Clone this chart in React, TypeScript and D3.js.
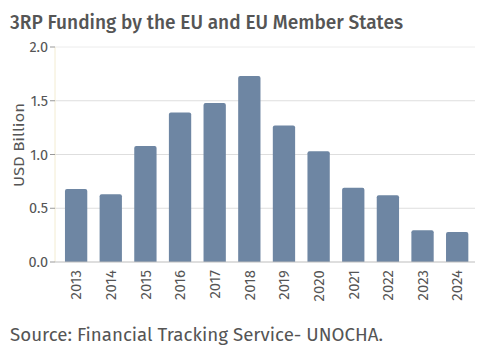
import React from "react";
import * as d3 from "d3";

const years = ["2013","2014","2015","2016","2017","2018","2019","2020","2021","2022","2023","2024"];
const funding = [0.68, 0.63, 1.08, 1.39, 1.48, 1.73, 1.27, 1.03, 0.69, 0.62, 0.295, 0.28];
const yTicks = [0, 0.5, 1.0, 1.5, 2.0];

const FONT = "'Fira Sans', 'Noto Sans', 'Open Sans', sans-serif";

export default function App() {
  const W = 480, H = 355;
  const left = 55, right = 475, top = 47, bottom = 262;
  const x = d3.scaleBand<string>().domain(years).range([58.8, 474.5]).paddingInner(0.356).paddingOuter(0.178);
  const y = d3.scaleLinear().domain([0, 2]).range([bottom, top]);
  const barColor = "#6e86a3";
  const textColor = "#555555";
  const bw = x.bandwidth();
  return (
    <svg width={W} height={H} style={{ position: "absolute", left: 0, top: 0, background: "#fff" }}>
      <text x={10} y={29} fontFamily={FONT} fontSize={20} fontWeight={500} fill={textColor} textLength={393} lengthAdjust="spacingAndGlyphs">
        3RP Funding by the EU and EU Member States
      </text>
      {yTicks.filter(t => t > 0).map(t => (
        <line key={"g" + t} x1={left} x2={right} y1={y(t)} y2={y(t)} stroke={t === 2 ? "#ececec" : "#dedede"} strokeWidth={1} />
      ))}
      <line x1={left} x2={left} y1={top} y2={bottom} stroke="#f3ecd2" strokeWidth={1} />
      {years.map((yr, i) => {
        const x0 = x(yr)!;
        const y0 = y(funding[i]);
        const r = 2;
        const d = `M${x0},${bottom} L${x0},${y0 + r} Q${x0},${y0} ${x0 + r},${y0} L${x0 + bw - r},${y0} Q${x0 + bw},${y0} ${x0 + bw},${y0 + r} L${x0 + bw},${bottom} Z`;
        return <path key={yr} d={d} fill={barColor} />;
      })}
      <line x1={left} x2={right} y1={bottom} y2={bottom} stroke="#bdbdbd" strokeWidth={1} />
      {yTicks.map(t => (
        <g key={"t" + t}>
          <line x1={left - 5} x2={left} y1={y(t)} y2={y(t)} stroke="#999" strokeWidth={1} />
          <text x={left - 7} y={y(t)} dy="0.35em" textAnchor="end" fontFamily={FONT} fontSize={14.5} fill={textColor}>
            {t.toFixed(1)}
          </text>
        </g>
      ))}
      <text transform={`translate(24,145) rotate(-90)`} textAnchor="middle" fontFamily={FONT} fontSize={15.5} fill={textColor} textLength={84} lengthAdjust="spacingAndGlyphs">
        USD Billion
      </text>
      {years.map(yr => (
        <text key={"l" + yr} transform={`translate(${x(yr)! + bw / 2},270) rotate(-90)`} dy="0.35em" textAnchor="end" fontFamily={FONT} fontSize={15} fill={textColor}>
          {yr}
        </text>
      ))}
      <text x={10} y={341} fontFamily={FONT} fontSize={18} fill={textColor} textLength={373} lengthAdjust="spacingAndGlyphs">
        Source: Financial Tracking Service- UNOCHA.
      </text>
    </svg>
  );
}
